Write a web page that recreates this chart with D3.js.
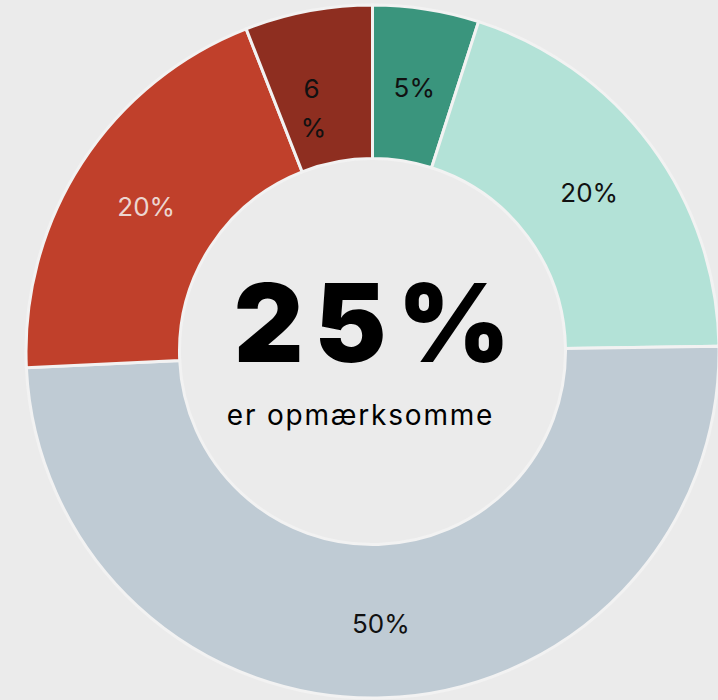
<!DOCTYPE html>
<html><head><meta charset="utf-8">
<script src="https://cdn.jsdelivr.net/npm/d3@7"></script>
<style>html,body{margin:0;padding:0;background:#ebebeb;}svg{display:block;}</style>
</head><body>
<svg id="chart" width="718" height="700"></svg>
<script>
const labels = ["5%", "20%", "50%", "20%", "6%"];
const values = [5, 20, 50, 20, 6];
const wrapLabel = [false, false, false, false, true];
const colors = ["#3a957d", "#b3e2d7", "#bfcbd4", "#c0402b", "#8e2e20"];
const labelColors = ["#111", "#111", "#111", "#ecd6d0", "#111"];
const centerValue = "25%";
const centerText = "er opmærksomme";

const svg = d3.select("#chart");
const cx = 372.5, cy = 351.5, R = 346.5, r = 193;
const g = svg.append("g").attr("transform", `translate(${cx},${cy})`);
const pie = d3.pie().sort(null).value(d => d);
const arc = d3.arc().innerRadius(r).outerRadius(R);
const labelArc = d3.arc().innerRadius(r).outerRadius(R);
const arcs = pie(values);

g.selectAll("path").data(arcs).join("path")
  .attr("d", arc)
  .attr("fill", (d, i) => colors[i])
  .attr("stroke", "#f2f2f2")
  .attr("stroke-width", 3);

g.selectAll("text.lbl").data(arcs).join("text")
  .attr("class", "lbl")
  .attr("transform", d => `translate(${labelArc.centroid(d)})`)
  .attr("text-anchor", "middle")
  .attr("dominant-baseline", "central")
  .attr("font-family", "Inter, sans-serif")
  .attr("font-size", 26)
  .attr("fill", (d, i) => labelColors[i])
  .each(function(d, i) {
    const t = d3.select(this);
    if (wrapLabel[i]) {
      const s = labels[i];
      t.append("tspan").attr("x", -11).attr("y", 2).text(s.slice(0, -1));
      t.append("tspan").attr("x", -9).attr("y", 41).text(s.slice(-1));
    } else {
      t.attr("y", 2).text(labels[i]);
    }
  });

g.append("text")
  .attr("x", 5).attr("y", 10)
  .attr("text-anchor", "middle")
  .attr("font-family", "Inter, sans-serif")
  .attr("font-weight", 900)
  .attr("font-size", 108)
  .attr("letter-spacing", 11)
  .attr("fill", "#000")
  .text(centerValue);

g.append("text")
  .attr("x", -12).attr("y", 73)
  .attr("text-anchor", "middle")
  .attr("font-family", "Inter, sans-serif")
  .attr("font-size", 28)
  .attr("letter-spacing", 1.8)
  .attr("fill", "#000")
  .text(centerText);
</script>
</body></html>
